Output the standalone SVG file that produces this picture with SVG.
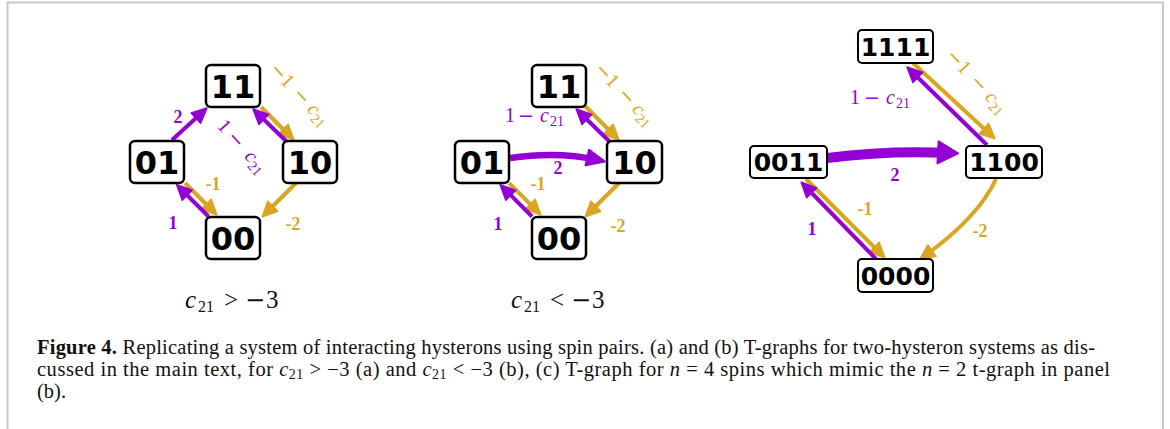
<svg xmlns="http://www.w3.org/2000/svg" width="1170" height="429" viewBox="0 0 1170 429">
<style>
.box{fill:#fff;stroke:#000;stroke-width:2.5}
.boxs{fill:#fff;stroke:#000;stroke-width:2}
.nt{font-family:"DejaVu Sans",sans-serif;font-weight:bold;font-size:32px;text-anchor:middle;fill:#000}
.nts{font-family:"DejaVu Sans",sans-serif;font-weight:bold;font-size:25px;text-anchor:middle;fill:#000}
.ep{fill:none;stroke:#9400D3;stroke-width:4}
.eg{fill:none;stroke:#DAA520;stroke-width:4}
.lb{font-family:"Liberation Serif",serif;font-weight:bold;font-size:18px;text-anchor:middle}
.lm{font-family:"Liberation Serif",serif;font-size:20px}
.mn{font-family:"DejaVu Sans",sans-serif;font-size:19px}
.pc{fill:#9400D3}
.gc{fill:#DAA520}
.cap{font-family:"Liberation Serif",serif;font-size:20.5px;fill:#111}
.mth{font-family:"Liberation Serif",serif;font-size:25px;fill:#111}
.mmn{font-family:"DejaVu Sans",sans-serif;font-size:24px}
</style>
<defs>
<marker id="hP" markerUnits="userSpaceOnUse" markerWidth="20" markerHeight="20" refX="11" refY="0" orient="auto" overflow="visible"><path d="M0,-7 L15,0 L0,7 Z" fill="#9400D3" stroke="#9400D3" stroke-width="1.5" stroke-linejoin="round"/></marker>
<marker id="hG" markerUnits="userSpaceOnUse" markerWidth="20" markerHeight="20" refX="11" refY="0" orient="auto" overflow="visible"><path d="M0,-7 L15,0 L0,7 Z" fill="#DAA520" stroke="#DAA520" stroke-width="1.5" stroke-linejoin="round"/></marker>
<marker id="hB" markerUnits="userSpaceOnUse" markerWidth="24" markerHeight="24" refX="11" refY="0" orient="auto" overflow="visible"><path d="M0,-8 L18,0 L0,8 Z" fill="#9400D3" stroke="#9400D3" stroke-width="2" stroke-linejoin="round"/></marker>
<marker id="hC" markerUnits="userSpaceOnUse" markerWidth="30" markerHeight="30" refX="11" refY="0" orient="auto" overflow="visible"><path d="M0,-11 L20,0 L0,11 Z" fill="#9400D3" stroke="#9400D3" stroke-width="2" stroke-linejoin="round"/></marker>
</defs>
<rect x="7.5" y="2.5" width="1155.5" height="450" fill="none" stroke="#c8c8c8" stroke-width="2"/>

<!-- Panel (a) -->
<g id="panel-a">
<g id="connectors-a">
<path class="ep" d="M172,140 L204,110.7" marker-end="url(#hP)"/>
<path class="eg" d="M261,107 L291,137" marker-end="url(#hG)"/>
<path class="ep" d="M287,142 L255.9,111.8" marker-end="url(#hP)"/>
<path class="eg" d="M185,183 L214,212" marker-end="url(#hG)"/>
<path class="ep" d="M208.5,216.5 L179.5,187.5" marker-end="url(#hP)"/>
<path class="eg" d="M296,183 L265,214" marker-end="url(#hG)"/>
</g>
<g id="labels-a">
<text class="lb pc" x="178" y="123">2</text>
<text class="lb gc" x="213" y="190">-1</text>
<text class="lb pc" x="173" y="229">1</text>
<text class="lb gc" x="293" y="230">-2</text>
<g transform="translate(301,97) rotate(47)"><text class="lm gc" y="5"><tspan class="mn" x="-42">−</tspan><tspan x="-26">1</tspan><tspan class="mn" x="-8">−</tspan><tspan x="13" font-style="italic">c</tspan><tspan x="22" dy="4" font-size="14">21</tspan></text></g>
<g transform="translate(244,150) rotate(48)"><text class="lm pc" y="5"><tspan x="-36">1</tspan><tspan class="mn" x="-21">−</tspan><tspan x="5" font-style="italic">c</tspan><tspan x="14" dy="4" font-size="14">21</tspan></text></g>
</g>
<g id="a-11"><rect class="box" x="206" y="65" width="54" height="42" rx="5"/><text class="nt" x="233" y="98">11</text></g>
<g id="a-01"><rect class="box" x="130" y="141" width="54" height="42" rx="5"/><text class="nt" x="157" y="174">01</text></g>
<g id="a-10"><rect class="box" x="283" y="141" width="54" height="42" rx="5"/><text class="nt" x="310" y="174">10</text></g>
<g id="a-00"><rect class="box" x="206" y="217" width="54" height="42" rx="5"/><text class="nt" x="233" y="250">00</text></g>
<text class="mth" y="308"><tspan x="185" font-style="italic">c</tspan><tspan x="198" font-size="16" dy="4">21</tspan><tspan x="224" dy="-4">&gt;</tspan><tspan class="mmn" x="245">−</tspan><tspan x="266">3</tspan></text>
</g>

<!-- Panel (b) -->
<g id="panel-b" transform="translate(326,0)">
<g id="connectors-b">
<path d="M184,158 Q232,151 272,160" fill="none" stroke="#9400D3" stroke-width="6.5" marker-end="url(#hB)"/>
<path class="eg" d="M259,106 L290,137" marker-end="url(#hG)"/>
<path class="ep" d="M284,142 L253,111.8" marker-end="url(#hP)"/>
<path class="eg" d="M183,183 L212,212" marker-end="url(#hG)"/>
<path class="ep" d="M206,216.5 L177,187.5" marker-end="url(#hP)"/>
<path class="eg" d="M293,183 L262,214" marker-end="url(#hG)"/>
</g>
<g id="labels-b">
<text class="lb pc" x="232" y="174">2</text>
<text class="lb gc" x="212" y="190">-1</text>
<text class="lb pc" x="172" y="230">1</text>
<text class="lb gc" x="292" y="232">-2</text>
<g transform="translate(300,97) rotate(47)"><text class="lm gc" y="5"><tspan class="mn" x="-42">−</tspan><tspan x="-26">1</tspan><tspan class="mn" x="-8">−</tspan><tspan x="13" font-style="italic">c</tspan><tspan x="22" dy="4" font-size="14">21</tspan></text></g>
<text class="lm pc" y="122"><tspan x="179">1</tspan><tspan class="mn" x="192">−</tspan><tspan x="214" font-style="italic">c</tspan><tspan x="224" dy="4" font-size="14">21</tspan></text>
</g>
<g id="b-11"><rect class="box" x="206" y="65" width="54" height="42" rx="5"/><text class="nt" x="233" y="98">11</text></g>
<g id="b-01"><rect class="box" x="129" y="141" width="54" height="42" rx="5"/><text class="nt" x="156" y="174">01</text></g>
<g id="b-10"><rect class="box" x="281" y="141" width="55" height="42" rx="5"/><text class="nt" x="308.5" y="174">10</text></g>
<g id="b-00"><rect class="box" x="206" y="217" width="54" height="42" rx="5"/><text class="nt" x="233" y="250">00</text></g>
<text class="mth" y="308"><tspan x="185" font-style="italic">c</tspan><tspan x="198" font-size="16" dy="4">21</tspan><tspan x="224" dy="-4">&lt;</tspan><tspan class="mmn" x="245">−</tspan><tspan x="266">3</tspan></text>
</g>

<!-- Panel (c) -->
<g id="panel-c">
<g id="connectors-c">
<path d="M827,158 Q890,150 949,153" fill="none" stroke="#9400D3" stroke-width="10" marker-end="url(#hC)"/>
<path class="eg" d="M913,63 L992,136" marker-end="url(#hG)"/>
<path class="ep" d="M987,145 L909.9,69.8" marker-end="url(#hP)"/>
<path class="eg" d="M806,179 L882,255" marker-end="url(#hG)"/>
<path class="ep" d="M876,259 L804,185" marker-end="url(#hP)"/>
<path class="eg" d="M996,179 Q978,218 923,257" marker-end="url(#hG)"/>
</g>
<g id="labels-c">
<text class="lb pc" x="895" y="181">2</text>
<text class="lb gc" x="865" y="215">-1</text>
<text class="lb pc" x="812" y="235">1</text>
<text class="lb gc" x="980" y="237">-2</text>
<g transform="translate(979,85) rotate(47)"><text class="lm gc" y="5"><tspan class="mn" x="-44">−</tspan><tspan x="-28">1</tspan><tspan class="mn" x="-9">−</tspan><tspan x="13" font-style="italic">c</tspan><tspan x="22" dy="4" font-size="14">21</tspan></text></g>
<text class="lm pc" y="104"><tspan x="850">1</tspan><tspan class="mn" x="864">−</tspan><tspan x="886" font-style="italic">c</tspan><tspan x="896" dy="4" font-size="14">21</tspan></text>
</g>
<g id="c-1111"><rect class="boxs" x="858" y="30" width="75" height="33" rx="4"/><text class="nts" x="895.5" y="55.5">1111</text></g>
<g id="c-0011"><rect class="boxs" x="750" y="146" width="77" height="32" rx="4"/><text class="nts" x="788.5" y="171">0011</text></g>
<g id="c-1100"><rect class="boxs" x="966" y="146" width="76" height="32" rx="4"/><text class="nts" x="1004" y="171">1100</text></g>
<g id="c-0000"><rect class="boxs" x="858" y="259" width="75" height="33" rx="4"/><text class="nts" x="895.5" y="284.5">0000</text></g>
</g>

<!-- Caption -->
<g id="caption">
<text class="cap" x="37" y="354" textLength="1058" lengthAdjust="spacing"><tspan font-weight="bold">Figure 4.</tspan> Replicating a system of interacting hysterons using spin pairs. (a) and (b) T-graphs for two-hysteron systems as dis-</text>
<text class="cap" x="37" y="376" textLength="1073" lengthAdjust="spacing">cussed in the main text, for <tspan font-style="italic">c</tspan><tspan font-size="14" dy="3">21</tspan><tspan dy="-3"> &gt; −3 (a) and </tspan><tspan font-style="italic">c</tspan><tspan font-size="14" dy="3">21</tspan><tspan dy="-3"> &lt; −3 (b), (c) T-graph for </tspan><tspan font-style="italic">n</tspan> = 4 spins which mimic the <tspan font-style="italic">n</tspan> = 2 t-graph in panel</text>
<text class="cap" x="37" y="398">(b).</text>
</g>
</svg>
